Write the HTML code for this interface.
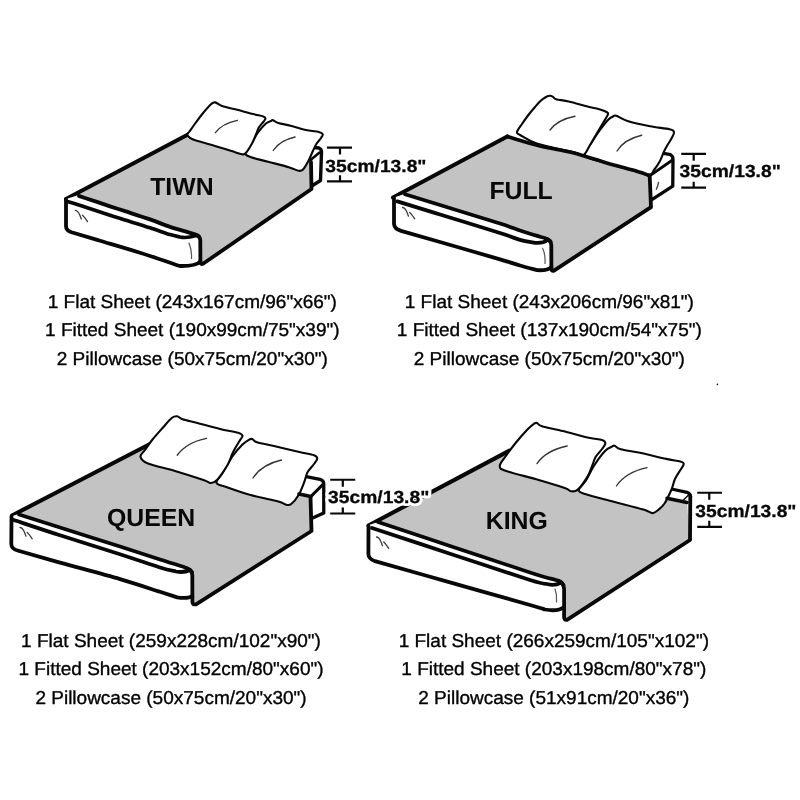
<!DOCTYPE html>
<html><head><meta charset="utf-8">
<style>html,body{margin:0;padding:0;background:#fff;overflow:hidden;}svg{display:block;will-change:transform;}text{text-rendering:geometricPrecision;}</style>
</head><body>
<svg width="800" height="800" viewBox="0 0 800 800">
<rect width="800" height="800" fill="#fff"/>
<path fill="#c3c3c3" d="M66,199 L188,134 L215,140 L250,150 L290,160 L311,160 L311.5,189 L202,264 L200,238 L196,234 L79,196 Z"/>
<path fill="#fff" d="M311,162 L314,148 L319,148 L321.5,152 L320.5,180.5 L311.5,186 Z"/>
<path fill="none" stroke="#080808" stroke-width="3.4" stroke-linejoin="round" stroke-linecap="round" d="M314,147.5 L319,148 Q321.5,149 321.5,152 L320.5,180.5 L311.75,186"/>
<path fill="none" stroke="#080808" stroke-width="2.6" stroke-linejoin="round" stroke-linecap="round" d="M310.5,160 L319.25,152.75"/>
<path fill="none" stroke="#080808" stroke-width="4.1" stroke-linejoin="round" stroke-linecap="round" d="M66,199 L188,134.5"/>
<path fill="#fff" stroke="#080808" stroke-width="2.1" stroke-linejoin="round" d="M245.1,153.3 C245.10,151.05 249.10,147.22 251.25,143.75 C253.40,140.28 255.56,135.88 258,132.5 C260.44,129.12 263.65,125.47 265.9,123.5 C268.15,121.53 270.38,121.27 271.5,120.7 C272.62,120.13 271.48,119.73 272.6,120.1 C273.73,120.47 275.25,121.96 278.25,122.9 C281.25,123.84 285.73,124.53 290.6,125.75 C295.48,126.97 302.81,129.21 307.5,130.25 C312.19,131.29 316.22,131.34 318.75,132 C321.28,132.66 322.32,133.20 322.7,134.2 C323.07,135.20 322.03,136.41 321,138 C319.97,139.59 317.82,141.67 316.5,143.75 C315.18,145.83 314.42,147.69 313.1,150.5 C311.78,153.31 310.28,157.42 308.6,160.6 C306.92,163.78 304.68,167.91 303,169.6 C301.32,171.29 300.75,171.12 298.5,170.75 C296.25,170.38 294.57,168.90 289.5,167.4 C284.43,165.90 274.48,163.44 268.1,161.75 C261.73,160.06 255.08,158.66 251.25,157.25 C247.42,155.84 245.10,155.55 245.1,153.3 Z"/>
<path fill="none" stroke="#333" stroke-width="1.35" stroke-linecap="round" d="M273.2,150.5 Q279.77,140.38 295.1,137"/>
<path fill="#fff" stroke="#080808" stroke-width="2.1" stroke-linejoin="round" d="M187.3,134.6 C187.22,133.55 188.22,133.31 189.5,131.5 C190.78,129.69 192.83,126.71 195,123.75 C197.17,120.79 199.79,117.04 202.5,113.75 C205.21,110.46 209.13,105.89 211.25,104 C213.37,102.11 213.29,102.03 215.2,102.4 C217.11,102.78 219.19,105.05 222.7,106.25 C226.21,107.45 231.18,108.29 236.25,109.6 C241.32,110.91 248.60,112.97 253.1,114.1 C257.60,115.23 261.18,115.65 263.25,116.4 C265.32,117.15 265.50,117.67 265.5,118.6 C265.50,119.53 264.38,120.50 263.25,122 C262.12,123.50 259.88,125.72 258.75,127.6 C257.62,129.47 257.62,130.62 256.5,133.25 C255.38,135.88 253.88,140.03 252,143.4 C250.12,146.78 247.12,151.73 245.25,153.5 C243.38,155.27 242.44,154.22 240.75,154 C239.06,153.78 239.89,153.70 235.1,152.2 C230.31,150.70 218.52,146.95 212,145 C205.48,143.05 199.67,141.70 196,140.5 C192.33,139.30 191.45,138.78 190,137.8 C188.55,136.82 187.38,135.65 187.3,134.6 Z"/>
<path fill="none" stroke="#333" stroke-width="1.35" stroke-linecap="round" d="M215.4,132.7 Q222.00,123.40 237.4,120.3"/>
<path fill="#fff" d="M66,199 L79,195 L125,210 L170,226 L196,233 Q200.3,235 200.3,240 L200.3,261.5 Q196,266 190,266 L180,266 L72,232.5 Q66,230.5 66,226 Z"/>
<path fill="none" stroke="#080808" stroke-width="3.8" stroke-linejoin="round" stroke-linecap="round" d="M66,199 L66,226 Q66,230.5 71.5,232.3  C76.25,233.71 88.58,237.34 100,240.75 C111.42,244.16 126.67,248.54 140,252.75 C153.33,256.96 173.33,263.79 180,266 Q196,266.3 200.3,261.5"/>
<path fill="none" stroke="#080808" stroke-width="3.8" stroke-linejoin="round" stroke-linecap="round" d="M311,162 L311.5,189 L203,263.8 Q200.5,264.6 200.4,262 L200.3,240 Q200,236 195,234.6"/>
<path fill="none" stroke="#080808" stroke-width="3.9" stroke-linejoin="round" stroke-linecap="round" d="M79,196 C80.00,196.33 79.83,196.28 85,198 C90.17,199.72 103.33,204.10 110,206.3 C116.67,208.50 118.33,209.02 125,211.2 C131.67,213.38 142.50,216.80 150,219.4 C157.50,222.00 163.33,224.57 170,226.8 C176.67,229.03 186.67,231.80 190,232.8 Q197,234.8 199,236.5"/>
<path fill="none" stroke="#080808" stroke-width="3.7" stroke-linejoin="round" stroke-linecap="round" d="M68,201.7 C70.83,202.58 78.00,204.73 85,207 C92.00,209.27 103.33,213.13 110,215.3 C116.67,217.47 118.33,217.92 125,220 C131.67,222.08 142.50,225.37 150,227.8 C157.50,230.23 165.00,233.07 170,234.6 C175.00,236.13 178.33,236.60 180,237 Q187,238.5 196,235.5"/>
<path fill="none" stroke="#3a3a3a" stroke-width="1.3" stroke-linecap="round" transform="translate(75.3,210.3)" d="M0,0 C2,0 3,1.5 4.4,4.5 L6,8.7 M7.2,5 C9,6.5 10,8 12.2,11.3"/>
<path fill="none" stroke="#555" stroke-width="1.2" stroke-linejoin="round" stroke-linecap="round" d="M189,243 C191,248 192,253 191.4,258.5"/>
<path fill="#c3c3c3" d="M394,197 L507,136.5 L540,146 L573,152.75 L607.5,163.25 L649,175.5 L651,207.2 L552.6,271.6 L545,240 L405,194 Z"/>
<path fill="#fff" d="M650.6,175.6 L663.75,153.6 L671.25,155 L673.6,158.75 L673.1,186 L652.5,200 Z"/>
<path fill="none" stroke="#080808" stroke-width="3.3" stroke-linejoin="round" stroke-linecap="round" d="M663.75,153.4 L670.5,154.6 Q673.2,156 673,160 L672.75,186.2 L651.5,199.8"/>
<path fill="none" stroke="#080808" stroke-width="2.9" stroke-linejoin="round" stroke-linecap="round" d="M650,175.6 L672.2,160.3"/>
<path fill="none" stroke="#444" stroke-width="1.3" stroke-linejoin="round" stroke-linecap="round" d="M658.5,182.5 C658,185 657.5,187 656.3,189.3"/>
<path fill="none" stroke="#080808" stroke-width="4.1" stroke-linejoin="round" stroke-linecap="round" d="M393,197.5 L507.25,136.5"/>
<path fill="#fff" stroke="#080808" stroke-width="2.1" stroke-linejoin="round" d="M585,156 C582.42,152.46 589.50,146.33 592,142 C594.50,137.67 597.33,133.67 600,130 C602.67,126.33 605.83,122.25 608,120 C610.17,117.75 611.62,117.21 613,116.5 C614.38,115.79 613.83,115.00 616.25,115.75 C618.67,116.50 621.88,119.25 627.5,121 C633.12,122.75 643.00,124.88 650,126.25 C657.00,127.62 665.50,128.25 669.5,129.25 C673.50,130.25 673.67,130.71 674,132.25 C674.33,133.79 672.58,136.38 671.5,138.5 C670.42,140.62 668.75,142.83 667.5,145 C666.25,147.17 665.25,148.83 664,151.5 C662.75,154.17 661.67,157.92 660,161 C658.33,164.08 655.83,167.75 654,170 C652.17,172.25 653.42,174.67 649,174.5 C644.58,174.33 634.42,170.88 627.5,169 C620.58,167.12 614.58,165.42 607.5,163.25 C600.42,161.08 587.58,159.54 585,156 Z"/>
<path fill="none" stroke="#333" stroke-width="1.35" stroke-linecap="round" d="M617,151 Q624.42,139.19 641.75,135.25"/>
<path fill="#fff" stroke="#080808" stroke-width="2.1" stroke-linejoin="round" d="M517,132 C517.33,130.17 520.17,126.75 522,124 C523.83,121.25 525.83,118.33 528,115.5 C530.17,112.67 532.83,109.50 535,107 C537.17,104.50 539.17,102.17 541,100.5 C542.83,98.83 544.50,97.78 546,97 C547.50,96.22 548.83,95.83 550,95.8 C551.17,95.77 552.00,96.23 553,96.8 C554.00,97.37 553.38,98.42 556,99.2 C558.62,99.98 563.50,100.28 568.75,101.5 C574.00,102.72 582.29,105.17 587.5,106.5 C592.71,107.83 596.83,108.58 600,109.5 C603.17,110.42 605.17,111.21 606.5,112 C607.83,112.79 608.58,112.42 608,114.25 C607.42,116.08 604.83,119.88 603,123 C601.17,126.12 599.17,129.33 597,133 C594.83,136.67 592.25,141.33 590,145 C587.75,148.67 586.00,153.75 583.5,155 C581.00,156.25 582.67,154.38 575,152.5 C567.33,150.62 546.67,146.67 537.5,143.75 C528.33,140.83 523.42,136.96 520,135 C516.58,133.04 516.67,133.83 517,132 Z"/>
<path fill="none" stroke="#333" stroke-width="1.35" stroke-linecap="round" d="M550,130 Q557.50,119.69 575,116.25"/>
<path fill="none" stroke="#080808" stroke-width="3.6" stroke-linejoin="round" stroke-linecap="round" d="M507.25,136.5 C512.71,138.08 529.04,143.29 540,146 C550.96,148.71 561.75,149.88 573,152.75 C584.25,155.62 596.75,160.12 607.5,163.25 C618.25,166.38 630.58,169.46 637.5,171.5 C644.42,173.54 647.08,174.83 649,175.5"/>
<path fill="#fff" d="M394,197.4 L405,194 L545,237 Q551.3,239 551.3,244 L551.3,267 Q548,270.5 540,270.5 L401,230.7 Q394,228 394,223 Z"/>
<path fill="none" stroke="#080808" stroke-width="3.8" stroke-linejoin="round" stroke-linecap="round" d="M394,197.4 L394,224 Q394.5,229 401,230.8  C407.50,232.67 423.50,237.25 440,242 C456.50,246.75 486.67,255.38 500,259.3 C513.33,263.22 513.80,263.68 520,265.5 C526.20,267.32 534.33,269.42 537.2,270.2 Q548,270.7 551.3,267"/>
<path fill="none" stroke="#080808" stroke-width="3.8" stroke-linejoin="round" stroke-linecap="round" d="M649.7,176 L651,207.2 L554,270.6 Q551.5,271.5 551.4,269 L551.3,245 Q551,240 546,238.8"/>
<path fill="none" stroke="#080808" stroke-width="3.7" stroke-linejoin="round" stroke-linecap="round" d="M405,194.3 C410.83,196.10 424.17,200.22 440,205.1 C455.83,209.98 486.67,219.37 500,223.6 C513.33,227.83 513.17,228.27 520,230.5 C526.83,232.73 537.50,235.92 541,237 Q548,238.5 550.5,241.5"/>
<path fill="none" stroke="#080808" stroke-width="3.8" stroke-linejoin="round" stroke-linecap="round" d="M397.4,201.4 C404.50,203.58 422.90,209.23 440,214.5 C457.10,219.77 486.67,228.78 500,233 C513.33,237.22 514.17,238.17 520,239.8 C525.83,241.43 532.50,242.30 535,242.8 Q543,243.5 547.5,240"/>
<path fill="none" stroke="#3a3a3a" stroke-width="1.3" stroke-linecap="round" transform="translate(402.5,207.5)" d="M0,0 C2,0 3,1.5 4.4,4.5 L6,8.7 M7.2,5 C9,6.5 10,8 12.2,11.3"/>
<path fill="none" stroke="#555" stroke-width="1.2" stroke-linejoin="round" stroke-linecap="round" d="M542.7,248.4 C544.5,252 545.3,257 545,263.5"/>
<path fill="#c3c3c3" d="M12,515 L150,444 L175,445 L210,460 L250,470 L305,478 L301,494.2 L310.5,496.5 L311.5,531 L194,604 L192,572 L187.5,568.75 L20,513.75 Z"/>
<path fill="#fff" d="M301,494.2 L305,476.3 L322,479.6 L324,483 L324,513 L311.5,518.6 L310.75,496.6 Z"/>
<path fill="none" stroke="#080808" stroke-width="3.3" stroke-linejoin="round" stroke-linecap="round" d="M305,476.3 L320,479.3 Q323.75,480.5 323.75,484 L323.75,512.9 L311.5,518.6"/>
<path fill="none" stroke="#080808" stroke-width="2.9" stroke-linejoin="round" stroke-linecap="round" d="M310.75,496.6 L323,484.4"/>
<path fill="none" stroke="#080808" stroke-width="4.1" stroke-linejoin="round" stroke-linecap="round" d="M12,515.5 L150,444"/>
<path fill="#fff" stroke="#080808" stroke-width="2.1" stroke-linejoin="round" d="M216.5,482.8 C215.96,480.36 220.29,476.72 223,472.25 C225.71,467.78 229.50,460.61 232.75,456 C236.00,451.39 239.79,447.31 242.5,444.6 C245.21,441.89 247.38,440.68 249,439.75 C250.62,438.82 250.92,438.59 252.25,439 C253.58,439.41 253.21,440.99 257,442.2 C260.79,443.41 267.93,444.62 275,446.25 C282.07,447.88 292.90,450.51 299.4,452 C305.90,453.49 311.02,454.13 314,455.2 C316.98,456.27 317.25,456.93 317.25,458.4 C317.25,459.87 315.62,461.69 314,464 C312.38,466.31 309.12,469.25 307.5,472.25 C305.88,475.25 305.73,478.21 304.25,482 C302.77,485.79 300.77,491.33 298.6,495 C296.43,498.67 293.28,502.38 291.25,504 C289.22,505.62 288.57,505.17 286.4,504.75 C284.23,504.33 284.22,503.12 278.25,501.5 C272.28,499.88 259.27,497.43 250.6,495 C241.93,492.57 231.93,488.93 226.25,486.9 C220.57,484.87 217.04,485.24 216.5,482.8 Z"/>
<path fill="none" stroke="#333" stroke-width="1.35" stroke-linecap="round" d="M253,478 Q261.55,464.50 281.5,460"/>
<path fill="#fff" stroke="#080808" stroke-width="2.1" stroke-linejoin="round" d="M140.5,456.75 C140.00,454.50 143.00,452.88 145,450 C147.00,447.12 149.50,443.25 152.5,439.5 C155.50,435.75 159.75,431.12 163,427.5 C166.25,423.88 169.62,419.62 172,417.75 C174.38,415.88 175.50,416.00 177.25,416.25 C179.00,416.50 179.12,418.12 182.5,419.25 C185.88,420.38 191.25,421.38 197.5,423 C203.75,424.62 213.25,427.38 220,429 C226.75,430.62 234.25,431.62 238,432.75 C241.75,433.88 242.25,434.38 242.5,435.75 C242.75,437.12 240.75,438.88 239.5,441 C238.25,443.12 236.25,446.25 235,448.5 C233.75,450.75 233.25,451.75 232,454.5 C230.75,457.25 230.00,460.75 227.5,465 C225.00,469.25 219.75,477.00 217,480 C214.25,483.00 213.25,483.00 211,483 C208.75,483.00 209.50,482.00 203.5,480 C197.50,478.00 184.25,473.75 175,471 C165.75,468.25 153.75,465.88 148,463.5 C142.25,461.12 141.00,459.00 140.5,456.75 Z"/>
<path fill="none" stroke="#333" stroke-width="1.35" stroke-linecap="round" d="M177.25,455.25 Q186.03,442.54 206.5,438.3"/>
<path fill="none" stroke="#080808" stroke-width="3.6" stroke-linejoin="round" stroke-linecap="round" d="M299,494 L310.75,496.6"/>
<path fill="#fff" d="M12.5,516 L20,513.5 L183,566.5 Q192.3,569 192.3,574 L192.3,596 Q188,599 180,598 L17.5,550 Q11.25,547 11.25,543 Z"/>
<path fill="none" stroke="#080808" stroke-width="3.8" stroke-linejoin="round" stroke-linecap="round" d="M11.5,516.5 L11.3,544 Q11.5,549 17.5,550.5  C24.58,552.52 42.92,557.83 60,562.6 C77.08,567.37 103.33,574.23 120,579.1 C136.67,583.97 150.47,588.75 160,591.8 C169.53,594.85 174.33,596.47 177.2,597.4 Q188,599 192.3,596"/>
<path fill="none" stroke="#080808" stroke-width="3.8" stroke-linejoin="round" stroke-linecap="round" d="M310.5,497 L311.5,531 L196,604.3 Q192.5,605 192.4,602 L192.3,575 Q192,570 187,568.6"/>
<path fill="none" stroke="#080808" stroke-width="3.7" stroke-linejoin="round" stroke-linecap="round" d="M19,514.5 C25.83,516.67 43.17,522.17 60,527.5 C76.83,532.83 103.33,541.15 120,546.5 C136.67,551.85 149.17,556.12 160,559.6 C170.83,563.08 180.83,566.10 185,567.4 Q190,569 192,572"/>
<path fill="none" stroke="#080808" stroke-width="3.8" stroke-linejoin="round" stroke-linecap="round" d="M13.75,520 C21.46,522.55 42.29,529.60 60,535.3 C77.71,541.00 103.33,548.83 120,554.2 C136.67,559.57 150.67,564.62 160,567.5 C169.33,570.38 173.33,570.83 176,571.5 Q184,573 190,570"/>
<path fill="none" stroke="#3a3a3a" stroke-width="1.3" stroke-linecap="round" transform="translate(20,527.5)" d="M0,0 C2,0 3,1.5 4.4,4.5 L6,8.7 M7.2,5 C9,6.5 10,8 12.2,11.3"/>
<path fill="#c3c3c3" d="M369,525 L509.5,450.6 L540,445 L600,470 L650,490 L671.5,489 L668.5,498.5 L687,502.5 L690,540 L565.5,619.5 L564,585 L558,580.5 L378,522 Z"/>
<path fill="#fff" d="M671.5,489 L688,492.5 L690.5,495 L689,501 L687,502.5 L668.5,498.5 Z"/>
<path fill="none" stroke="#080808" stroke-width="3.3" stroke-linejoin="round" stroke-linecap="round" d="M671.5,489 L687,492.3 Q690.5,493.5 690.5,497"/>
<path fill="none" stroke="#080808" stroke-width="1.5" stroke-linejoin="round" stroke-linecap="round" d="M683,500.5 L689,494.5"/>
<path fill="none" stroke="#080808" stroke-width="4.1" stroke-linejoin="round" stroke-linecap="round" d="M368.5,525.5 L509.5,450.6"/>
<path fill="#fff" stroke="#080808" stroke-width="2.1" stroke-linejoin="round" d="M578.75,490.4 C578.46,488.07 583.12,484.98 585.75,480.75 C588.38,476.52 591.29,469.96 594.5,465 C597.71,460.04 602.08,454.07 605,451 C607.92,447.93 610.40,447.48 612,446.6 C613.60,445.73 613.14,445.31 614.6,445.75 C616.06,446.19 616.52,448.08 620.75,449.25 C624.98,450.42 632.42,451.14 640,452.75 C647.58,454.36 659.54,457.44 666.25,458.9 C672.96,460.36 677.33,460.63 680.25,461.5 C683.17,462.37 683.75,462.64 683.75,464.1 C683.75,465.56 681.71,467.77 680.25,470.25 C678.79,472.73 676.46,475.79 675,479 C673.54,482.21 673.25,485.42 671.5,489.5 C669.75,493.58 666.83,500.00 664.5,503.5 C662.17,507.00 659.54,508.90 657.5,510.5 C655.46,512.10 654.58,513.25 652.25,513.1 C649.92,512.95 649.92,511.49 643.5,509.6 C637.08,507.71 623.08,504.23 613.75,501.75 C604.42,499.27 593.33,496.64 587.5,494.75 C581.67,492.86 579.04,492.73 578.75,490.4 Z"/>
<path fill="none" stroke="#333" stroke-width="1.35" stroke-linecap="round" d="M616.4,486 Q625.58,472.20 647,467.6"/>
<path fill="#fff" stroke="#080808" stroke-width="2.1" stroke-linejoin="round" d="M499.75,466 C499.75,463.42 503.54,459.42 506.25,455.5 C508.96,451.58 512.48,446.83 516,442.5 C519.52,438.17 524.42,432.62 527.4,429.5 C530.38,426.38 532.30,424.88 533.9,423.8 C535.50,422.72 535.65,422.59 537,423 C538.35,423.41 537.67,424.90 542,426.25 C546.33,427.60 555.42,429.21 563,431.1 C570.58,432.99 581.00,436.12 587.5,437.6 C594.00,439.08 599.02,439.05 602,440 C604.98,440.95 605.40,441.80 605.4,443.3 C605.40,444.80 603.63,446.72 602,449 C600.37,451.28 597.20,454.29 595.6,457 C594.00,459.71 593.75,461.98 592.4,465.25 C591.05,468.52 589.94,472.54 587.5,476.6 C585.06,480.66 580.46,487.16 577.75,489.6 C575.04,492.04 573.42,491.52 571.25,491.25 C569.08,490.98 570.17,489.89 564.75,488 C559.33,486.11 548.50,482.73 538.75,479.9 C529.00,477.07 512.75,473.32 506.25,471 C499.75,468.68 499.75,468.58 499.75,466 Z"/>
<path fill="none" stroke="#333" stroke-width="1.35" stroke-linecap="round" d="M537,463.6 Q546.06,450.40 567.2,446"/>
<path fill="none" stroke="#080808" stroke-width="3.6" stroke-linejoin="round" stroke-linecap="round" d="M667,498.3 L687,502.5"/>
<path fill="#fff" d="M369,525 L378,522 L555,579.5 Q564.1,582 564.1,587 L564.1,607 Q558,611.5 550,610.5 L375,561 Q368.4,558 368.4,554 Z"/>
<path fill="none" stroke="#080808" stroke-width="3.8" stroke-linejoin="round" stroke-linecap="round" d="M368.5,526 L368.4,554 Q368.6,559 375,561.2  C387.50,564.73 424.17,575.10 450,582.4 C475.83,589.70 514.17,600.48 530,605 C545.83,609.52 542.50,608.75 545,609.5 Q558,611.8 564.1,607"/>
<path fill="none" stroke="#080808" stroke-width="3.8" stroke-linejoin="round" stroke-linecap="round" d="M690.3,496 L690,540 L567,619.8 Q564.2,620.6 564.1,617 L564.1,589 Q563.5,582 558,580.6"/>
<path fill="none" stroke="#080808" stroke-width="3.7" stroke-linejoin="round" stroke-linecap="round" d="M378,522 C390.00,526.00 424.67,537.60 450,546 C475.33,554.40 512.50,566.77 530,572.4 C547.50,578.03 550.83,578.57 555,579.8 Q561,581.5 563.5,585"/>
<path fill="none" stroke="#080808" stroke-width="3.8" stroke-linejoin="round" stroke-linecap="round" d="M372,528 C385.00,532.28 423.67,545.03 450,553.7 C476.33,562.37 513.83,574.95 530,580 C546.17,585.05 544.17,583.33 547,584 Q555,586 560,583"/>
<path fill="none" stroke="#3a3a3a" stroke-width="1.3" stroke-linecap="round" transform="translate(376.5,537)" d="M0,0 C2,0 3,1.5 4.4,4.5 L6,8.7 M7.2,5 C9,6.5 10,8 12.2,11.3"/>
<path fill="none" stroke="#555" stroke-width="1.2" stroke-linejoin="round" stroke-linecap="round" d="M555,589 C556.5,593 557,598 556.5,602"/>
<text font-family="'Liberation Sans', sans-serif" font-weight="bold" fill="#080808" font-size="24.8" x="150.2" y="195.2">TIWN</text>
<text font-family="'Liberation Sans', sans-serif" font-weight="bold" fill="#080808" font-size="24.8" x="489.4" y="199">FULL</text>
<text font-family="'Liberation Sans', sans-serif" font-weight="bold" fill="#080808" font-size="24.8" x="107" y="525.6">QUEEN</text>
<text font-family="'Liberation Sans', sans-serif" font-weight="bold" fill="#080808" font-size="24.8" x="485.8" y="529">KING</text>
<path fill="none" stroke="#080808" stroke-width="2.2" stroke-linejoin="round" stroke-linecap="butt" d="M327,147.6 H352 M340,147.6 V154.6 M340,175.3 V181.3 M327,181.3 H352"/>
<text font-family="'Liberation Sans', sans-serif" font-weight="bold" fill="#080808" font-size="17.5" transform="translate(325.3,171.6) scale(1.10,1)" stroke="#080808" stroke-width="0.3">35cm/13.8"</text>
<path fill="none" stroke="#080808" stroke-width="2.2" stroke-linejoin="round" stroke-linecap="butt" d="M681.25,153.8 H706 M693.7,153.8 V160.8 M693.7,181.7 V187.7 M681.25,187.7 H706"/>
<text font-family="'Liberation Sans', sans-serif" font-weight="bold" fill="#080808" font-size="17.5" transform="translate(679.6,177.2) scale(1.10,1)" stroke="#080808" stroke-width="0.3">35cm/13.8"</text>
<path fill="none" stroke="#080808" stroke-width="2.2" stroke-linejoin="round" stroke-linecap="butt" d="M330.2,479.75 H355.25 M342.8,479.75 V486.75 M342.8,507.5 V513.5 M330.2,513.5 H355.25"/>
<text font-family="'Liberation Sans', sans-serif" font-weight="bold" fill="#080808" font-size="17.5" transform="translate(328.1,503) scale(1.10,1)" stroke="#fff" stroke-width="6" stroke-linejoin="round">35cm/13.8"</text>
<text font-family="'Liberation Sans', sans-serif" font-weight="bold" fill="#080808" font-size="17.5" transform="translate(328.1,503) scale(1.10,1)" stroke="#080808" stroke-width="0.3">35cm/13.8"</text>
<path fill="none" stroke="#080808" stroke-width="2.2" stroke-linejoin="round" stroke-linecap="butt" d="M697.25,492.75 H722 M709.25,492.75 V499.75 M709.25,520.8 V526.8 M697.25,526.8 H722"/>
<text font-family="'Liberation Sans', sans-serif" font-weight="bold" fill="#080808" font-size="17.5" transform="translate(695.3,516.75) scale(1.10,1)" stroke="#080808" stroke-width="0.3">35cm/13.8"</text>
<text font-family="'Liberation Sans', sans-serif" font-size="18.6" fill="#000" stroke="#000" stroke-width="0.35" text-anchor="middle" transform="translate(192.3,307.5) scale(1.022,1)">1 Flat Sheet (243x167cm/96&quot;x66&quot;)</text>
<text font-family="'Liberation Sans', sans-serif" font-size="18.6" fill="#000" stroke="#000" stroke-width="0.35" text-anchor="middle" transform="translate(192.3,336.1) scale(1.022,1)">1 Fitted Sheet (190x99cm/75&quot;x39&quot;)</text>
<text font-family="'Liberation Sans', sans-serif" font-size="18.6" fill="#000" stroke="#000" stroke-width="0.35" text-anchor="middle" transform="translate(192.3,364.7) scale(1.022,1)">2 Pillowcase (50x75cm/20&quot;x30&quot;)</text>
<text font-family="'Liberation Sans', sans-serif" font-size="18.6" fill="#000" stroke="#000" stroke-width="0.35" text-anchor="middle" transform="translate(549.3,307.5) scale(1.022,1)">1 Flat Sheet (243x206cm/96&quot;x81&quot;)</text>
<text font-family="'Liberation Sans', sans-serif" font-size="18.6" fill="#000" stroke="#000" stroke-width="0.35" text-anchor="middle" transform="translate(549.3,336.1) scale(1.022,1)">1 Fitted Sheet (137x190cm/54&quot;x75&quot;)</text>
<text font-family="'Liberation Sans', sans-serif" font-size="18.6" fill="#000" stroke="#000" stroke-width="0.35" text-anchor="middle" transform="translate(549.3,364.7) scale(1.022,1)">2 Pillowcase (50x75cm/20&quot;x30&quot;)</text>
<text font-family="'Liberation Sans', sans-serif" font-size="18.6" fill="#000" stroke="#000" stroke-width="0.35" text-anchor="middle" transform="translate(171,646.8) scale(1.022,1)">1 Flat Sheet (259x228cm/102&quot;x90&quot;)</text>
<text font-family="'Liberation Sans', sans-serif" font-size="18.6" fill="#000" stroke="#000" stroke-width="0.35" text-anchor="middle" transform="translate(171,675.4) scale(1.022,1)">1 Fitted Sheet (203x152cm/80&quot;x60&quot;)</text>
<text font-family="'Liberation Sans', sans-serif" font-size="18.6" fill="#000" stroke="#000" stroke-width="0.35" text-anchor="middle" transform="translate(171,704.0) scale(1.022,1)">2 Pillowcase (50x75cm/20&quot;x30&quot;)</text>
<text font-family="'Liberation Sans', sans-serif" font-size="18.6" fill="#000" stroke="#000" stroke-width="0.35" text-anchor="middle" transform="translate(553.8,646.8) scale(1.022,1)">1 Flat Sheet (266x259cm/105&quot;x102&quot;)</text>
<text font-family="'Liberation Sans', sans-serif" font-size="18.6" fill="#000" stroke="#000" stroke-width="0.35" text-anchor="middle" transform="translate(553.8,675.4) scale(1.022,1)">1 Fitted Sheet (203x198cm/80&quot;x78&quot;)</text>
<text font-family="'Liberation Sans', sans-serif" font-size="18.6" fill="#000" stroke="#000" stroke-width="0.35" text-anchor="middle" transform="translate(553.8,704.0) scale(1.022,1)">2 Pillowcase (51x91cm/20&quot;x36&quot;)</text>
<circle cx="717.4" cy="384.4" r="0.8" fill="#111"/>
</svg>
</body></html>
